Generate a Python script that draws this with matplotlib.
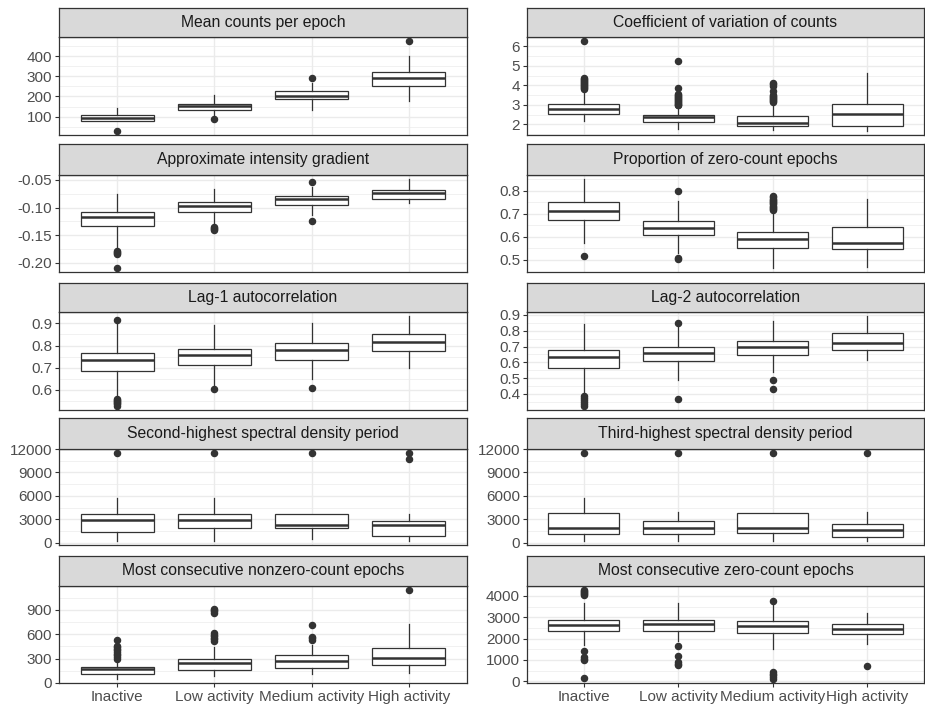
import matplotlib
matplotlib.use("Agg")
import matplotlib.pyplot as plt
import numpy as np

plt.rcParams['font.family'] = ['Liberation Sans', 'DejaVu Sans']

groups = ['Inactive', 'Low activity', 'Medium activity', 'High activity']

# each row: whisker low, q1, median, q3, whisker high
mean_counts = [[76, 78, 93, 106, 143], [110, 131, 151, 162, 205],
               [135, 185, 202, 227, 268], [177, 252, 290, 323, 402]]
mean_counts_out = [[31], [90], [293], [472]]

cv_counts = [[2.17, 2.56, 2.80, 3.04, 3.75], [1.77, 2.12, 2.38, 2.47, 2.94],
             [1.72, 1.94, 2.09, 2.43, 3.08], [1.69, 1.94, 2.56, 3.04, 4.61]]
cv_counts_out = [[3.8, 3.85, 3.9, 3.95, 4.0, 4.05, 4.1, 4.15, 4.2, 4.25, 4.3, 4.35, 6.24],
                 [2.97, 3.0, 3.05, 3.1, 3.15, 3.2, 3.25, 3.3, 3.35, 3.4, 3.45, 3.5, 3.55, 3.86, 5.25],
                 [3.15, 3.2, 3.25, 3.3, 3.35, 3.4, 3.45, 3.5, 3.7, 3.95, 4.05, 4.12],
                 []]

gradient = [[-0.176, -0.1335, -0.117, -0.1075, -0.076], [-0.130, -0.1075, -0.097, -0.090, -0.066],
            [-0.114, -0.095, -0.085, -0.079, -0.062], [-0.091, -0.084, -0.073, -0.069, -0.049]]
gradient_out = [[-0.179, -0.181, -0.183, -0.185, -0.209], [-0.135, -0.137, -0.139, -0.140],
                [-0.054, -0.124], []]

zero_prop = [[0.573, 0.671, 0.710, 0.751, 0.848], [0.529, 0.606, 0.638, 0.667, 0.754],
             [0.467, 0.551, 0.590, 0.619, 0.710], [0.471, 0.546, 0.573, 0.642, 0.764]]
zero_prop_out = [[0.519], [0.80, 0.51, 0.505],
                 [0.715, 0.72, 0.725, 0.73, 0.735, 0.74, 0.745, 0.75, 0.755, 0.76, 0.765, 0.77, 0.775],
                 []]

lag1 = [[0.565, 0.685, 0.734, 0.768, 0.905], [0.618, 0.714, 0.756, 0.783, 0.893],
        [0.649, 0.734, 0.781, 0.811, 0.900], [0.701, 0.774, 0.815, 0.852, 0.931]]
lag1_out = [[0.916, 0.56, 0.555, 0.55, 0.545, 0.54, 0.535, 0.53], [0.603], [0.607], []]

lag2 = [[0.406, 0.562, 0.631, 0.677, 0.844], [0.490, 0.608, 0.660, 0.698, 0.823],
        [0.542, 0.646, 0.698, 0.735, 0.860], [0.615, 0.677, 0.721, 0.787, 0.890]]
lag2_out = [[0.385, 0.375, 0.365, 0.35, 0.335, 0.327], [0.85, 0.371], [0.49, 0.431], []]

second_period = [[260, 1414, 2914, 3686, 5786], [260, 1843, 2914, 3686, 5786],
                 [470, 1843, 2271, 3686, 3686], [260, 900, 2271, 2786, 3686]]
second_period_out = [[11450], [11450], [11450], [11450, 10757]]

third_period = [[260, 1114, 1929, 3857, 5786], [260, 1114, 1929, 2786, 3900],
                [260, 1286, 1929, 3857, 3857], [260, 771, 1629, 2357, 3900]]
third_period_out = [[11450], [11450], [11450], [11450]]

nonzero_run = [[54, 107, 169, 198, 290], [83, 165, 240, 301, 446],
               [116, 190, 268, 339, 467], [124, 219, 310, 425, 727]]
nonzero_run_out = [[300, 320, 340, 360, 380, 400, 420, 440, 460, 528],
                   [515, 535, 555, 575, 595, 615, 865, 880, 895, 905],
                   [530, 550, 570, 714], [1139]]

zero_run = [[1701, 2375, 2651, 2881, 3678], [1884, 2375, 2697, 2850, 3647],
            [1532, 2268, 2605, 2804, 3571], [1731, 2237, 2452, 2697, 3218]]
zero_run_out = [[4030, 4080, 4130, 4180, 4230, 4260, 1425, 1118, 1060, 995, 152],
                [1654, 1195, 888, 800, 765],
                [3755, 428, 350, 280, 200, 122], [704]]

panels = [
    ("Mean counts per epoch", mean_counts, mean_counts_out, [100, 200, 300, 400]),
    ("Coefficient of variation of counts", cv_counts, cv_counts_out, [2, 3, 4, 5, 6]),
    ("Approximate intensity gradient", gradient, gradient_out, [-0.20, -0.15, -0.10, -0.05]),
    ("Proportion of zero-count epochs", zero_prop, zero_prop_out, [0.5, 0.6, 0.7, 0.8]),
    ("Lag-1 autocorrelation", lag1, lag1_out, [0.6, 0.7, 0.8, 0.9]),
    ("Lag-2 autocorrelation", lag2, lag2_out, [0.4, 0.5, 0.6, 0.7, 0.8, 0.9]),
    ("Second-highest spectral density period", second_period, second_period_out, [0, 3000, 6000, 9000, 12000]),
    ("Third-highest spectral density period", third_period, third_period_out, [0, 3000, 6000, 9000, 12000]),
    ("Most consecutive nonzero-count epochs", nonzero_run, nonzero_run_out, [0, 300, 600, 900]),
    ("Most consecutive zero-count epochs", zero_run, zero_run_out, [0, 1000, 2000, 3000, 4000]),
]
tick_fmt = ["{:.0f}", "{:.0f}", "{:.2f}", "{:.1f}", "{:.1f}", "{:.1f}", "{:.0f}", "{:.0f}", "{:.0f}", "{:.0f}"]

W, H = 925, 709
fig = plt.figure(figsize=(W / 100, H / 100), dpi=100)

col_x = [(59, 467), (527, 924)]
# strip top, strip bottom, panel bottom (pixels from top)
row_y = [(8, 37, 135), (144, 175, 272), (283, 312, 410), (418, 449, 545), (556, 586, 683)]

dark = "#333333"
grid = "#EBEBEB"

for i, (title, stats, outs, ticks) in enumerate(panels):
    r, c = divmod(i, 2)
    x0, x1 = col_x[c]
    st, sb, pb = row_y[r]
    ax = fig.add_axes([x0 / W, 1 - pb / H, (x1 - x0) / W, (pb - sb) / H])
    sax = fig.add_axes([x0 / W, 1 - sb / H, (x1 - x0) / W, (sb - st) / H])

    bstats = []
    for s, o in zip(stats, outs):
        bstats.append(dict(whislo=s[0], q1=s[1], med=s[2], q3=s[3], whishi=s[4], fliers=o))
    ax.bxp(bstats, positions=[1, 2, 3, 4], widths=0.75, showcaps=False, patch_artist=True,
           boxprops=dict(facecolor="white", edgecolor=dark, linewidth=0.9),
           medianprops=dict(color=dark, linewidth=1.8),
           whiskerprops=dict(color=dark, linewidth=0.9),
           flierprops=dict(marker="o", markersize=4.4, markerfacecolor=dark,
                           markeredgecolor=dark, linestyle="none"),
           zorder=3)

    allv = [v for s in stats for v in (s[0], s[4])] + [v for o in outs for v in o]
    lo, hi = min(allv), max(allv)
    pad = 0.05 * (hi - lo)
    ax.set_ylim(lo - pad, hi + pad)
    ax.set_xlim(0.4, 4.6)

    step = ticks[1] - ticks[0]
    minors = [t - step / 2 for t in ticks] + [ticks[-1] + step / 2]
    for m in minors:
        if lo - pad < m < hi + pad:
            ax.axhline(m, color=grid, linewidth=0.5, zorder=0)
    for t in ticks:
        ax.axhline(t, color=grid, linewidth=1.0, zorder=0)
    for xpos in range(1, 5):
        ax.axvline(xpos, color=grid, linewidth=1.0, zorder=0)

    ax.set_yticks(ticks)
    ax.set_yticklabels([tick_fmt[i].format(t) for t in ticks])
    ax.tick_params(axis="y", length=3, width=0.8, color=dark, labelcolor="#4D4D4D",
                   labelsize=11, pad=2)
    if r == 4:
        ax.set_xticks([1, 2, 3, 4])
        ax.set_xticklabels(groups)
        ax.tick_params(axis="x", length=3, width=0.8, color=dark, labelcolor="#4D4D4D",
                       labelsize=11, pad=2)
    else:
        ax.set_xticks([])
    for sp in ax.spines.values():
        sp.set_color(dark)
        sp.set_linewidth(0.9)

    sax.set_facecolor("#D9D9D9")
    sax.set_xticks([])
    sax.set_yticks([])
    for sp in sax.spines.values():
        sp.set_color(dark)
        sp.set_linewidth(0.9)
    sax.text(0.5, 0.5, title, ha="center", va="center", fontsize=11.3, color="#1A1A1A",
             transform=sax.transAxes)

fig.savefig("out.png", dpi=100)
